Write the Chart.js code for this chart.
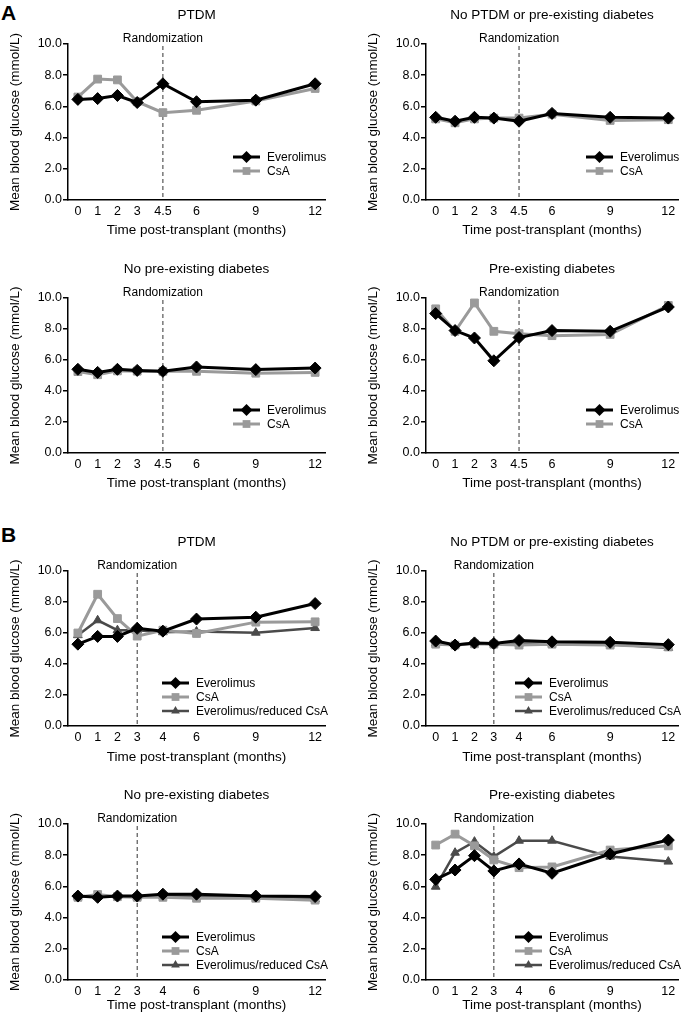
<!DOCTYPE html>
<html>
<head>
<meta charset="utf-8">
<script src="https://cdn.jsdelivr.net/npm/chart.js@4.4.1/dist/chart.umd.min.js"></script>
<style>
  html, body { margin:0; padding:0; background:#fff; }
  body { width:685px; height:1017px; position:relative; overflow:hidden; font-family:"Liberation Sans", Arial, sans-serif; }
  .panel { position:absolute; }
  .letter { position:absolute; font-weight:bold; font-size:21px; color:#000; line-height:1; }
</style>
</head>
<body>
<div class="letter" style="left:1px;top:2px;">A</div>
<div class="letter" style="left:1px;top:524px;">B</div>

<script>
// ---------- eixos ----------
// posição desenhada de cada visita (a 4ª visita fica um pouco antes do valor real)
const X_POS      = [0, 1, 2, 3, 4.3, 6, 9, 12];
const X_LABELS_A = ['0', '1', '2', '3', '4.5', '6', '9', '12'];
const X_LABELS_B = ['0', '1', '2', '3', '4', '6', '9', '12'];
const Y_TICKS    = [0, 2, 4, 6, 8, 10];
const RAND_A = 4.3;   // randomização em 4.5 meses (posição no eixo)
const RAND_B = 3;

const SERIES_A = ['Everolimus', 'CsA'];
const SERIES_B = ['Everolimus', 'CsA', 'Everolimus/reduced CsA'];

// ---------- A ----------
const a_ptdm_evr  = [6.45, 6.5, 6.7, 6.25, 7.45, 6.3, 6.4, 7.45];
const a_ptdm_csa  = [6.6, 7.75, 7.7, 6.3, 5.6, 5.75, 6.35, 7.15];
const a_none_evr  = [5.3, 5.05, 5.3, 5.25, 5.05, 5.55, 5.3, 5.25];
const a_none_csa  = [5.2, 4.95, 5.2, 5.25, 5.25, 5.5, 5.1, 5.15];
const a_nopre_evr = [5.4, 5.2, 5.4, 5.33, 5.27, 5.55, 5.38, 5.48];
const a_nopre_csa = [5.25, 5.05, 5.3, 5.28, 5.27, 5.27, 5.15, 5.2];
const a_pre_evr   = [9.0, 7.9, 7.42, 5.95, 7.45, 7.9, 7.85, 9.42];
const a_pre_csa   = [9.3, 7.85, 9.68, 7.85, 7.7, 7.57, 7.65, 9.52];

// ---------- B ----------
const b_ptdm_evr  = [5.28, 5.78, 5.78, 6.3, 6.12, 6.9, 7.02, 7.9];
const b_ptdm_csa  = [6.0, 8.5, 6.93, 5.8, 6.18, 5.97, 6.7, 6.72];
const b_ptdm_red  = [5.86, 6.82, 6.18, 6.18, 6.05, 6.1, 6.02, 6.32];
const b_none_evr  = [5.48, 5.22, 5.36, 5.32, 5.52, 5.43, 5.4, 5.25];
const b_none_csa  = [5.28, 5.22, 5.3, 5.28, 5.22, 5.28, 5.22, 5.1];
const b_none_red  = [5.32, 5.26, 5.32, 5.32, 5.32, 5.32, 5.28, 5.04];
const b_nopre_evr = [5.38, 5.3, 5.38, 5.38, 5.5, 5.5, 5.38, 5.35];
const b_nopre_csa = [5.3, 5.48, 5.34, 5.3, 5.3, 5.24, 5.24, 5.12];
const b_nopre_red = [5.34, 5.34, 5.38, 5.34, 5.38, 5.34, 5.3, 5.17];
const b_pre_evr   = [6.45, 7.05, 7.97, 6.99, 7.44, 6.84, 8.08, 8.97];
const b_pre_csa   = [8.65, 9.35, 8.6, 7.7, 7.2, 7.25, 8.33, 8.6];
const b_pre_red   = [5.98, 8.16, 8.87, 7.91, 8.93, 8.93, 7.91, 7.59];

const FONT = '"Liberation Sans", Arial, sans-serif';
const STYLES = [
  { color:'#000000', point:'rectRot',  radius:6,   width:3 },
  { color:'#9a9a9a', point:'rect',     radius:5.5, width:3 },
  { color:'#4a4a4a', point:'triangle', radius:5,   width:2.5 }
];

// painel: canvas (x,y,w,h) + área do gráfico (top,bottom) em coordenadas da página
const PANELS = [
  { cx:0,   cy:0,   w:340, h:250, top:44,  bottom:200, title:'PTDM', rand:RAND_A, labels:X_LABELS_A, names:SERIES_A, data:[a_ptdm_evr, a_ptdm_csa], xt:30 },
  { cx:358, cy:0,   w:327, h:250, top:44,  bottom:200, title:'No PTDM or pre-existing diabetes', rand:RAND_A, labels:X_LABELS_A, names:SERIES_A, data:[a_none_evr, a_none_csa], xt:30 },
  { cx:0,   cy:250, w:340, h:255, top:298, bottom:453, title:'No pre-existing diabetes', rand:RAND_A, labels:X_LABELS_A, names:SERIES_A, data:[a_nopre_evr, a_nopre_csa], xt:30 },
  { cx:358, cy:250, w:327, h:255, top:298, bottom:453, title:'Pre-existing diabetes', rand:RAND_A, labels:X_LABELS_A, names:SERIES_A, data:[a_pre_evr, a_pre_csa], xt:30 },
  { cx:0,   cy:508, w:340, h:262, top:571, bottom:726, title:'PTDM', rand:RAND_B, labels:X_LABELS_B, names:SERIES_B, data:[b_ptdm_evr, b_ptdm_csa, b_ptdm_red], xt:31 },
  { cx:358, cy:508, w:327, h:262, top:571, bottom:726, title:'No PTDM or pre-existing diabetes', rand:RAND_B, labels:X_LABELS_B, names:SERIES_B, data:[b_none_evr, b_none_csa, b_none_red], xt:31 },
  { cx:0,   cy:770, w:340, h:247, top:824, bottom:980, title:'No pre-existing diabetes', rand:RAND_B, labels:X_LABELS_B, names:SERIES_B, data:[b_nopre_evr, b_nopre_csa, b_nopre_red], xt:25 },
  { cx:358, cy:770, w:327, h:247, top:824, bottom:980, title:'Pre-existing diabetes', rand:RAND_B, labels:X_LABELS_B, names:SERIES_B, data:[b_pre_evr, b_pre_csa, b_pre_red], xt:25 }
];

function marker(ctx, style, r, x, y){
  ctx.beginPath();
  if(style==='rectRot'){
    ctx.moveTo(x, y-r); ctx.lineTo(x+r, y); ctx.lineTo(x, y+r); ctx.lineTo(x-r, y);
  } else if(style==='rect'){
    const s = r*Math.SQRT1_2;
    ctx.rect(x-s, y-s, 2*s, 2*s);
  } else {
    const w = r*Math.sqrt(3)/2;
    ctx.moveTo(x, y-r); ctx.lineTo(x+w, y+r/2); ctx.lineTo(x-w, y+r/2);
  }
  ctx.closePath();
  ctx.fill();
}

// títulos, randomização e legenda
const decor = {
  id: 'decor',
  beforeDatasetsDraw(chart, args, o){
    const { ctx, chartArea:a, scales } = chart;
    const x = scales.x.getPixelForValue(o.rand);
    ctx.save();
    ctx.strokeStyle = '#333';
    ctx.lineWidth = 1;
    ctx.setLineDash([4, 3]);
    ctx.beginPath(); ctx.moveTo(x, a.top + 2); ctx.lineTo(x, a.bottom); ctx.stroke();
    ctx.restore();
  },
  afterDraw(chart, args, o){
    const { ctx, chartArea:a, scales } = chart;
    ctx.save();
    ctx.fillStyle = '#000';
    ctx.textAlign = 'center'; ctx.textBaseline = 'middle';
    ctx.font = '13.5px ' + FONT;
    ctx.fillText(o.title, (a.left + a.right)/2, a.top - 29);
    ctx.fillText('Time post-transplant (months)', (a.left + a.right)/2, a.bottom + o.xt);
    ctx.save();
    ctx.translate(a.left - 53, (a.top + a.bottom)/2);
    ctx.rotate(-Math.PI/2);
    ctx.fillText('Mean blood glucose (mmol/L)', 0, 0);
    ctx.restore();
    ctx.font = '12px ' + FONT;
    ctx.fillText('Randomization', scales.x.getPixelForValue(o.rand), a.top - 5);

    // legenda
    const n = o.names.length;
    const lx = a.right - (n === 2 ? 92 : 163);
    ctx.textAlign = 'left';
    ctx.font = '12px ' + FONT;
    o.names.forEach((name, i)=>{
      const st = STYLES[i];
      const y = a.bottom - 43 + i*14;
      ctx.strokeStyle = st.color; ctx.fillStyle = st.color; ctx.lineWidth = st.width;
      ctx.beginPath(); ctx.moveTo(lx, y); ctx.lineTo(lx + 27, y); ctx.stroke();
      marker(ctx, st.point, st.radius, lx + 13.5, y);
      ctx.fillStyle = '#000';
      ctx.fillText(name, lx + 34, y + 0.5);
    });
    ctx.restore();
  }
};

PANELS.forEach(p=>{
  const div = document.createElement('div');
  div.className = 'panel';
  div.style.left = p.cx + 'px'; div.style.top = p.cy + 'px';
  const cv = document.createElement('canvas');
  cv.width = p.w; cv.height = p.h;
  cv.style.width = p.w + 'px'; cv.style.height = p.h + 'px';
  div.appendChild(cv);
  document.body.appendChild(div);

  const right = p.cx === 0 ? 15 : 2;
  new Chart(cv.getContext('2d'), {
    type: 'line',
    data: {
      datasets: p.data.map((vals, i)=>({
        label: p.names[i],
        data: vals.map((v, k)=>({ x: X_POS[k], y: v })),
        borderColor: STYLES[i].color,
        backgroundColor: STYLES[i].color,
        borderWidth: STYLES[i].width,
        pointStyle: STYLES[i].point,
        pointRadius: STYLES[i].radius,
        pointBorderWidth: 1,
        tension: 0
      }))
    },
    options: {
      responsive: false,
      animation: false,
      devicePixelRatio: 1,
      layout: { padding: { left:0, top: p.top - p.cy, right, bottom:0 } },
      plugins: {
        legend: { display:false },
        tooltip: { enabled:false },
        decor: { title:p.title, rand:p.rand, names:p.names, xt:p.xt }
      },
      scales: {
        x: {
          type: 'linear', min: -0.5, max: 12.5,
          afterBuildTicks: s => { s.ticks = X_POS.map(v=>({ value:v })); },
          afterFit: s => { s.height = p.cy + p.h - p.bottom; s.paddingLeft = 0; s.paddingRight = 0; },
          ticks: { callback: (v, i)=> p.labels[i], color:'#000', padding:4, maxRotation:0, autoSkip:false, font:{ family:FONT, size:12.5 } },
          grid: { display:false, drawTicks:false },
          border: { display:true, color:'#000', width:1.5 }
        },
        y: {
          min: 0, max: 10,
          afterBuildTicks: s => { s.ticks = Y_TICKS.map(v=>({ value:v })); },
          afterFit: s => { s.width = 68; s.paddingTop = 0; s.paddingBottom = 0; },
          ticks: { callback: v => v.toFixed(1), color:'#000', padding:1, font:{ family:FONT, size:12.5 } },
          grid: { drawOnChartArea:false, drawTicks:true, tickLength:5, color:'#000', lineWidth:1.5 },
          border: { display:true, color:'#000', width:1.5 }
        }
      }
    },
    plugins: [decor]
  });
});
</script>
</body>
</html>
